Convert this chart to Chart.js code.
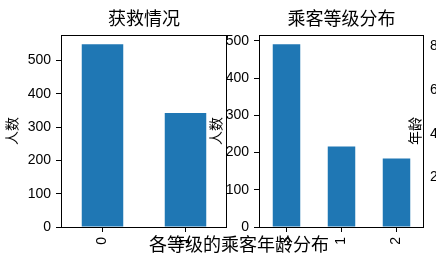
<!DOCTYPE html>
<html>
<head>
<meta charset="utf-8">
<script src="https://cdn.jsdelivr.net/npm/chart.js@4"></script>
<style>
  body { margin: 0; width: 436px; height: 253px; overflow: hidden; position: relative; background: #fff; }
  canvas { position: absolute; }
</style>
</head>
<body>
<canvas id="survivedChart" width="240" height="253" style="left:0;top:0"></canvas>
<canvas id="pclassChart" width="232" height="253" style="left:204px;top:0"></canvas>
<canvas id="ageDistChart" width="356" height="150" style="left:61px;top:232px"></canvas>
<canvas id="ageChart" width="200" height="253" style="left:400px;top:0"></canvas>
<script>
// data
const survivedLabels = ['0', '1'];
const survivedCounts = [549, 342];
const survivedTicks = [0, 100, 200, 300, 400, 500];

const pclassLabels = ['3', '1', '2'];
const pclassCounts = [491, 216, 184];
const pclassTicks = [0, 100, 200, 300, 400, 500];

const ageTicks = [0, 20, 40, 60, 80];

const FONT = "'Liberation Sans', 'Noto Sans CJK SC', sans-serif";
const BLUE = '#1f77b4';

Chart.defaults.color = '#000';
Chart.defaults.font.family = FONT;

// full box round the plot area, like matplotlib spines
const frame = {
    id: 'frame',
    afterDraw(chart) {
        const { ctx, chartArea: a } = chart;
        ctx.save();
        ctx.strokeStyle = '#000';
        ctx.lineWidth = 1;
        ctx.strokeRect(Math.round(a.left) + 0.5, Math.round(a.top) + 0.5,
            Math.round(a.right - a.left) - 1, Math.round(a.bottom - a.top));
        ctx.restore();
    }
};

function tickGrid() {
    return { display: true, drawOnChartArea: false, drawTicks: true, tickLength: 5, color: '#000', offset: false };
}

function makeBar(id, title, labels, counts, ticks, yMax, yWidth, yTitlePad, padRight) {
    const ctx = document.getElementById(id).getContext('2d');
    return new Chart(ctx, {
        type: 'bar',
        data: {
            labels: labels,
            datasets: [{
                data: counts,
                backgroundColor: BLUE,
                barPercentage: 0.5,
                categoryPercentage: 1
            }]
        },
        options: {
            responsive: false,
            animation: false,
            layout: { padding: { left: 0, right: padRight, top: 0, bottom: 0 } },
            plugins: {
                legend: { display: false },
                tooltip: { enabled: false },
                title: {
                    display: true,
                    text: title,
                    fullSize: false,
                    font: { size: 18, weight: 'normal', lineHeight: 1 },
                    padding: { top: 11, bottom: 6 }
                }
            },
            scales: {
                x: {
                    grid: tickGrid(),
                    border: { display: false },
                    ticks: { autoSkip: false, minRotation: 90, maxRotation: 90, padding: 5, font: { size: 14 } },
                    afterFit: s => { s.height = 26; }
                },
                y: {
                    min: 0,
                    max: yMax,
                    grid: tickGrid(),
                    border: { display: false },
                    ticks: { padding: 5, font: { size: 14 } },
                    afterBuildTicks: s => { s.ticks = ticks.map(v => ({ value: v })); },
                    title: { display: true, text: '人数', font: { size: 14 }, padding: { top: yTitlePad, bottom: 0 } },
                    afterFit: s => { s.width = yWidth; }
                }
            }
        },
        plugins: [frame]
    });
}

makeBar('survivedChart', '获救情况', survivedLabels, survivedCounts, survivedTicks, 576.45, 61, 5, 13);
makeBar('pclassChart', '乘客等级分布', pclassLabels, pclassCounts, pclassTicks, 515.55, 55, 4.3, 12);

// third subplot: only its title falls inside the window
new Chart(document.getElementById('ageDistChart').getContext('2d'), {
    type: 'line',
    data: { labels: [], datasets: [] },
    options: {
        responsive: false,
        animation: false,
        plugins: {
            legend: { display: false },
            title: {
                display: true,
                text: '各等级的乘客年龄分布',
                font: { size: 18, weight: 'normal', lineHeight: 1 },
                padding: { top: 5.5, bottom: 6 }
            }
        },
        scales: { x: { display: false }, y: { display: false } }
    }
});

// fourth subplot: only the left edge of its age axis shows
new Chart(document.getElementById('ageChart').getContext('2d'), {
    type: 'scatter',
    data: { datasets: [{ data: [] }] },
    options: {
        responsive: false,
        animation: false,
        layout: { padding: { top: 35, bottom: 26 } },
        plugins: { legend: { display: false }, tooltip: { enabled: false } },
        scales: {
            x: { display: false },
            y: {
                min: -2.5,
                max: 85,
                grid: tickGrid(),
                border: { display: true, color: '#000' },
                ticks: { padding: 5, font: { size: 14 } },
                afterBuildTicks: s => { s.ticks = ageTicks.map(v => ({ value: v })); },
                title: { display: true, text: '年龄', font: { size: 14 }, padding: { top: 8.1, bottom: 0 } },
                afterFit: s => { s.width = 55.5; }
            }
        }
    }
});
</script>
</body>
</html>
